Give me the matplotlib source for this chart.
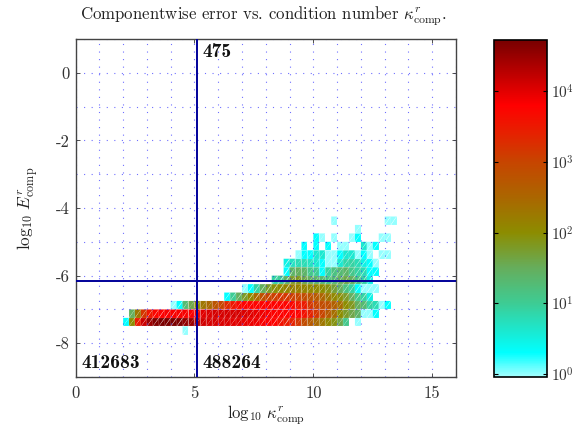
import numpy as np
import matplotlib
matplotlib.use('Agg')
import matplotlib.pyplot as plt
from matplotlib.colors import LinearSegmentedColormap, LogNorm

plt.rcParams['font.family'] = ['cmr10', 'DejaVu Sans']
plt.rcParams['mathtext.fontset'] = 'cm'
plt.rcParams['axes.unicode_minus'] = False

# histogram counts, one list per error bin, bin width 0.25 in both axes
bin_width = 0.25
row_bottom = [-7.75, -7.5, -7.25, -7.0, -6.75, -6.5, -6.25,
              -6.0, -5.75, -5.5, -5.25, -5.0, -4.75, -4.5]
row_first = [18, 8, 9, 16, 25, 28, 33, 35, 35, 37, 38, 40, 47, 43]
row_counts = [
    [1],
    [2, 100, 3000, 14000, 30000, 45000, 50000, 50000, 50000, 48000, 35000, 30000, 22000, 13000,
     12000, 12000, 11000, 11000, 10000, 10000, 9000, 8500, 8000, 7000, 6500, 6000, 4000, 3000,
     2500, 1500, 800, 500, 300, 200, 120, 80, 40, 12, 0, 1],
    [30, 200, 1500, 3500, 5500, 6500, 7000, 7000, 7000, 7000, 7000, 8000, 10000, 11000, 12000,
     12000, 12000, 12000, 12000, 11000, 10000, 9000, 8000, 7000, 6500, 6500, 6000, 6000, 6000,
     4000, 2500, 1500, 1000, 500, 250, 100, 60, 40, 25, 1, 1, 2],
    [1, 2, 20, 40, 100, 200, 300, 600, 1000, 2000, 3500, 5000, 6000, 6000, 6000, 6000, 6000,
     6000, 6000, 6000, 5500, 3500, 3000, 1500, 1000, 800, 700, 400, 250, 100, 70, 30, 20, 8, 6, 1, 2],
    [2, 10, 30, 60, 120, 300, 700, 1000, 1200, 1500, 1500, 1200, 1000, 800, 600, 500, 350, 200,
     120, 90, 60, 30, 12, 8, 3],
    [1, 2, 8, 30, 60, 90, 110, 130, 150, 150, 130, 120, 110, 100, 80, 50, 30, 15, 8, 2, 1, 1, 1],
    [8, 10, 25, 60, 70, 40, 30, 25, 20, 15, 20, 30, 40, 30, 15, 8, 3],
    [2, 25, 30, 25, 12, 10, 2, 8, 15, 20, 25, 12, 8, 6, 2, 2],
    [3, 5, 6, 6, 5, 4, 2, 1, 1, 4, 7, 8, 6, 3, 2, 1],
    [1, 2, 2, 4, 4, 1, 1, 2, 4, 4, 1, 2, 1, 0, 1, 1],
    [2, 0, 2, 0, 2, 0, 1, 1, 0, 0, 4, 1, 2],
    [2, 1, 0, 1, 0, 0, 1, 2, 0, 0, 0, 1, 1],
    [1],
    [1, 0, 0, 0, 0, 0, 0, 0, 0, 1, 1],
]

kappa_split = 5.1
error_split = -6.15
quadrant_labels = ['475', '412683', '488264']

x_ticks = [0, 5, 10, 15]
y_ticks = [-8, -6, -4, -2, 0]
y_labels = ['-8', '-6', '-4', '-2', '0']
cbar_ticks = [1, 10, 100, 1000, 10000]

log_min, log_max = -0.04, 4.72
color_stops = [
    (-0.04, (0.65, 1.0, 1.0)),
    (0.3, (0.0, 1.0, 1.0)),
    (1.0, (0.24, 0.80, 0.58)),
    (1.5, (0.40, 0.68, 0.36)),
    (2.0, (0.55, 0.55, 0.0)),
    (2.5, (0.67, 0.40, 0.0)),
    (3.0, (0.78, 0.27, 0.0)),
    (3.4, (0.90, 0.13, 0.0)),
    (3.8, (1.0, 0.0, 0.0)),
    (4.72, (0.47, 0.0, 0.0)),
]
cmap = LinearSegmentedColormap.from_list(
    'err', [((v - log_min) / (log_max - log_min), c) for v, c in color_stops], N=512)
norm = LogNorm(10 ** log_min, 10 ** log_max)

W, H = 574.0, 428.0
fig = plt.figure(figsize=(5.74, 4.28), dpi=100)
ax = fig.add_axes([75.5 / W, 1 - 377 / H, 380.5 / W, 338 / H])
cax = fig.add_axes([494 / W, 1 - 377 / H, 53 / W, 337 / H])

# split each bin in two triangles, the seams give the look of the original
pts_x, pts_y, tris, vals = [], [], [], []
for y0, first, counts in zip(row_bottom, row_first, row_counts):
    for k, c in enumerate(counts):
        if c == 0:
            continue
        x0 = (first + k) * bin_width
        n = len(pts_x)
        pts_x += [x0, x0 + bin_width, x0 + bin_width, x0]
        pts_y += [y0, y0, y0 + bin_width, y0 + bin_width]
        tris += [[n, n + 1, n + 2], [n, n + 2, n + 3]]
        vals += [c, c]

mesh = ax.tripcolor(pts_x, pts_y, np.array(tris), facecolors=np.array(vals, dtype=float),
                    cmap=cmap, norm=norm, edgecolors='white', linewidth=0.08,
                    antialiased=True)

ax.axvline(kappa_split, color=(0, 0, 0.6), lw=1.4, zorder=3)
ax.axhline(error_split, color=(0, 0, 0.6), lw=1.4, zorder=3)

ax.set_xlim(0, 16)
ax.set_ylim(-9, 1)
ax.set_xticks(x_ticks)
ax.set_xticklabels([str(t) for t in x_ticks])
ax.set_yticks(y_ticks)
ax.set_yticklabels(y_labels)
ax.set_xticks(np.arange(0, 17), minor=True)
ax.set_yticks(np.arange(-9, 2), minor=True)
ax.grid(which='both', color=(0.2, 0.2, 1), alpha=0.7, lw=0.8, linestyle=(0, (1, 5.8)))
ax.tick_params(which='major', direction='in', length=3, width=0.6, top=True, right=True,
               labelsize=12, labelcolor='#333333', color='#333333')
ax.tick_params(axis='x', which='major', pad=6)
ax.tick_params(axis='y', which='major', pad=4)
ax.tick_params(which='minor', length=0)
for s in ax.spines.values():
    s.set_linewidth(1.0)
    s.set_color('#444444')

bold = dict(family='cmb10', fontsize=14, color='#111111', va='center')
ax.text(5.32, 0.62, quadrant_labels[0], **bold)
ax.text(0.24, -8.58, quadrant_labels[1], **bold)
ax.text(5.32, -8.58, quadrant_labels[2], **bold)

ax.set_title(r'Componentwise error vs. condition number $\kappa^r_{\mathrm{comp}}$.',
             fontsize=12.1, color='#222222', pad=14, x=0.495)
ax.set_xlabel(r'$\log_{10}\,\kappa^r_{\mathrm{comp}}$', fontsize=12, color='#222222', labelpad=2)
ax.set_ylabel(r'$\log_{10}\,E^r_{\mathrm{comp}}$', fontsize=12.4, color='#222222', labelpad=11)

cb = fig.colorbar(mesh, cax=cax)
cb.set_ticks(cbar_ticks)
cb.ax.minorticks_off()
cb.ax.tick_params(direction='in', length=3, width=0.8, left=True, right=True,
                  labelsize=11, labelcolor='#333333', pad=3)
cb.outline.set_linewidth(1.2)

fig.savefig('out.png', dpi=100)
